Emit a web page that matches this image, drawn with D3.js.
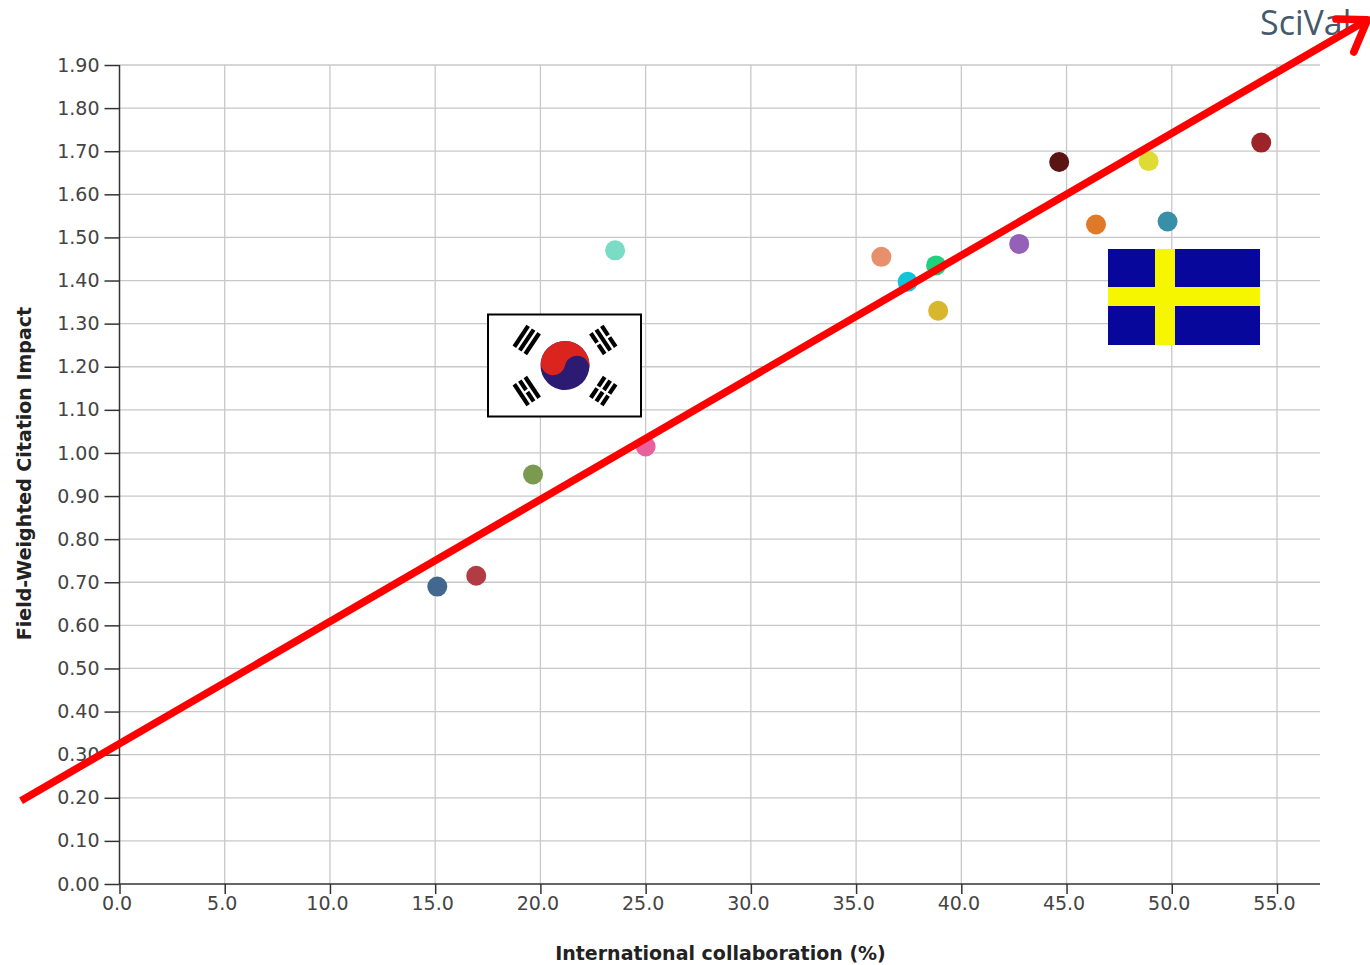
<!DOCTYPE html>
<html><head><meta charset="utf-8">
<script src="https://cdnjs.cloudflare.com/ajax/libs/d3/7.8.5/d3.min.js"></script>
<style>html,body{margin:0;padding:0;background:#fff}svg{display:block}text{font-family:"DejaVu Sans",sans-serif}</style>
</head><body><svg id="c" width="1370" height="965"></svg>
<script>
const xTicks=[0,5,10,15,20,25,30,35,40,45,50,55];
const yTicks=[0,.1,.2,.3,.4,.5,.6,.7,.8,.9,1,1.1,1.2,1.3,1.4,1.5,1.6,1.7,1.8,1.9];
const collab=[15.1,16.95,19.65,25.0,23.55,36.2,37.45,38.8,38.9,42.75,44.65,46.4,48.9,49.8,54.25];
const fwci=[0.69,0.715,0.95,1.015,1.47,1.455,1.397,1.435,1.33,1.485,1.675,1.53,1.677,1.537,1.72];
const colors=["#43688f","#b23c44","#7a9a50","#e8609c","#7adcc4","#e88f6c","#12c4d8","#1fd07c","#d8b72e","#9560b8","#5a1414","#e07a28","#dedc34","#3a8fa8","#9c2428"];
const trendX=[-4.68,59.3];
const trendY=[0.193,2.005];

const svg=d3.select("#c");
const x=d3.scaleLinear().domain([0,55]).range([119.5,1277]);
const y=d3.scaleLinear().domain([0,1.9]).range([884,65]);
const xEnd=1320, txt="#444";

// grid
svg.append("g").selectAll("line").data(xTicks.slice(1)).join("line")
 .attr("x1",d=>x(d)).attr("x2",d=>x(d)).attr("y1",65).attr("y2",884).attr("stroke","#c8c8c8").attr("stroke-width",1.3);
svg.append("g").selectAll("line").data(yTicks.slice(1)).join("line")
 .attr("x1",x(0)).attr("x2",xEnd).attr("y1",d=>y(d)).attr("y2",d=>y(d)).attr("stroke","#c8c8c8").attr("stroke-width",1.3);

// axes
const ax=svg.append("g").attr("transform",`translate(0,${y(0)})`)
 .call(d3.axisBottom(x).tickValues(xTicks).tickFormat(d3.format(".1f")).tickSize(10).tickSizeOuter(0));
ax.select(".domain").attr("d",`M${x(0)},0H${xEnd}`).attr("stroke","#333").attr("stroke-width",1.5);
ax.selectAll("line").attr("stroke","#333").attr("stroke-width",1.5);
ax.selectAll("text").attr("fill",txt).attr("font-size",19).attr("dx",-3).attr("y",13).attr("dy","0.71em");
const ay=svg.append("g").attr("transform",`translate(${x(0)},0)`)
 .call(d3.axisLeft(y).tickValues(yTicks).tickFormat(d3.format(".2f")).tickSize(15).tickSizeOuter(0));
ay.select(".domain").attr("d",`M0,${y(1.9)}V${y(0)}`).attr("stroke","#333").attr("stroke-width",1.5);
ay.selectAll("line").attr("stroke","#333").attr("stroke-width",1.5);
ay.selectAll("text").attr("fill",txt).attr("font-size",19).attr("x",-20);

svg.append("text").attr("x",720.5).attr("y",960).attr("text-anchor","middle").attr("font-size",19).attr("font-weight","bold").attr("fill","#222").text("International collaboration (%)");
svg.append("text").attr("transform","translate(31,473.5) rotate(-90)").attr("text-anchor","middle").attr("font-size",19).attr("font-weight","bold").attr("fill","#222").text("Field-Weighted Citation Impact");

// logo
svg.append("text").attr("x",1260).attr("y",35).attr("font-size",34).attr("fill","#45596b").style("font-family","'Open Sans'").text("SciVal");

// points
svg.append("g").selectAll("circle").data(collab).join("circle")
 .attr("cx",d=>x(d)).attr("cy",(d,i)=>y(fwci[i])).attr("r",10).attr("fill",(d,i)=>colors[i]);

// Sweden flag
const se=svg.append("g");
se.append("rect").attr("x",1108).attr("y",249).attr("width",152).attr("height",96).attr("fill","#07079c");
se.append("rect").attr("x",1155).attr("y",249).attr("width",20).attr("height",96).attr("fill","#f6f600");
se.append("rect").attr("x",1108).attr("y",287).attr("width",152).attr("height",19).attr("fill","#f6f600");

// Korea flag
const k=svg.append("g").attr("transform","translate(565,365.5)");
k.append("rect").attr("x",-77).attr("y",-51).attr("width",153).attr("height",102).attr("fill","#fff").attr("stroke","#000").attr("stroke-width",2);
const R=24.5;
k.append("g").attr("transform","rotate(12)").call(g=>{
 g.append("circle").attr("r",R).attr("fill","#2b1b72");
 g.append("path").attr("d",`M${-R},0A${R},${R} 0 0 1 ${R},0A${R/2},${R/2} 0 0 0 0,0A${R/2},${R/2} 0 0 1 ${-R},0Z`).attr("fill","#dc241f");
});
function tri(angle,breaks){
 const g=k.append("g").attr("transform",`rotate(${angle}) translate(0,-46)`);
 [-6.6,0,6.6].forEach((o,i)=>{
  if(breaks[i]){[-1,1].forEach(s=>g.append("rect").attr("x",s<0?-12.5:1.2).attr("y",o-2.1).attr("width",11.3).attr("height",4.2).attr("fill","#000"));}
  else g.append("rect").attr("x",-12.5).attr("y",o-2.1).attr("width",25).attr("height",4.2).attr("fill","#000");
 });
}
tri(-56.3,[0,0,0]); tri(56.3,[1,0,1]); tri(-123.7,[0,1,0]); tri(123.7,[1,1,1]);

// annotation arrow
const line=d3.line().x(d=>x(d[0])).y(d=>y(d[1]));
svg.append("path").attr("d",line(d3.zip(trendX,trendY))).attr("stroke","#fe0000").attr("stroke-width",7.5).attr("fill","none");
const hx=[57.8,59.3,58.65], hy=[2.0065,2.005,1.93];
svg.append("path").attr("d",line(d3.zip(hx,hy))).attr("stroke","#fe0000").attr("stroke-width",7.5).attr("fill","none").attr("stroke-linecap","round").attr("stroke-linejoin","round");
</script></body></html>
